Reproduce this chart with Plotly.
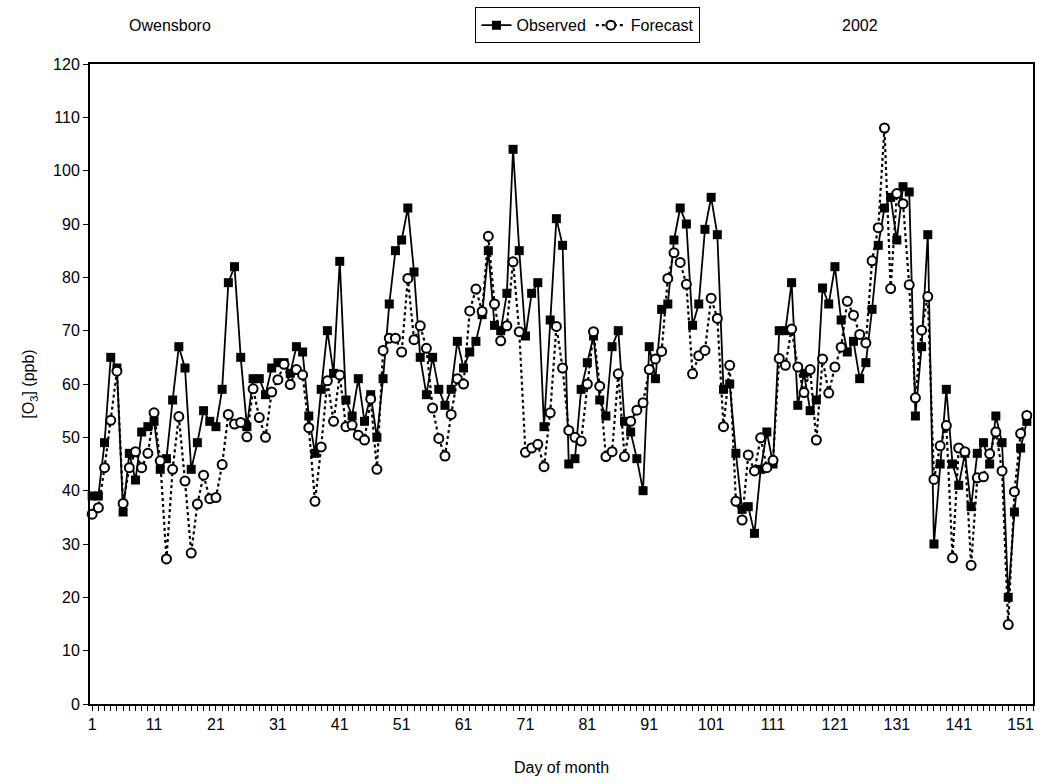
import plotly.graph_objects as go

days = list(range(1, 153))

observed = [
    39, 39, 49, 65, 63, 36, 47, 42, 51, 52,
    53, 44, 46, 57, 67, 63, 44, 49, 55, 53,
    52, 59, 79, 82, 65, 52, 61, 61, 58, 63,
    64, 64, 62, 67, 66, 54, 47, 59, 70, 62,
    83, 57, 54, 61, 53, 58, 50, 61, 75, 85,
    87, 93, 81, 65, 58, 65, 59, 56, 59, 68,
    63, 66, 68, 73, 85, 71, 70, 77, 104, 85,
    69, 77, 79, 52, 72, 91, 86, 45, 46, 59,
    64, 69, 57, 54, 67, 70, 53, 51, 46, 40,
    67, 61, 74, 75, 87, 93, 90, 71, 75, 89,
    95, 88, 59, 60, 47, 36.5, 37, 32, 44, 51,
    45, 70, 70, 79, 56, 62, 55, 57, 78, 75,
    82, 72, 66, 68, 61, 64, 74, 86, 93, 95,
    87, 97, 96, 54, 67, 88, 30, 45, 59, 45,
    41, 47, 37, 47, 49, 45, 54, 49, 20, 36,
    48, 53,
]

forecast = [
    35.6, 36.8, 44.3, 53.2, 62.4, 37.6, 44.3, 47.3, 44.3, 47.0,
    54.6, 45.6, 27.2, 44.0, 53.9, 41.8, 28.3, 37.5, 42.9, 38.5,
    38.7, 44.9, 54.3, 52.5, 52.8, 50.1, 59.1, 53.7, 50.0, 58.5,
    60.8, 63.7, 59.9, 62.7, 61.7, 51.8, 38.0, 48.2, 60.6, 53.0,
    61.7, 52.0, 52.3, 50.4, 49.5, 57.2, 44.0, 66.3, 68.6, 68.6,
    66.0, 79.8, 68.3, 70.9, 66.7, 55.5, 49.8, 46.5, 54.3, 61.0,
    60.0, 73.7, 77.8, 73.6, 87.7, 75.0, 68.1, 70.9, 82.9, 69.8,
    47.2, 48.0, 48.7, 44.5, 54.6, 70.8, 63.0, 51.3, 50.0, 49.3,
    60.0, 69.8, 59.6, 46.4, 47.3, 61.9, 46.4, 53.0, 55.1, 56.5,
    62.7, 64.7, 66.1, 79.8, 84.6, 82.8, 78.7, 61.9, 65.3, 66.3,
    76.1, 72.3, 52.0, 63.5, 38.0, 34.5, 46.7, 43.7, 49.9, 44.3,
    45.7, 64.8, 63.5, 70.3, 63.2, 58.4, 62.7, 49.5, 64.7, 58.3,
    63.2, 66.9, 75.5, 72.9, 69.3, 67.7, 83.1, 89.3, 108.0, 77.9,
    95.7, 93.8, 78.6, 57.4, 70.1, 76.4, 42.1, 48.4, 52.2, 27.4,
    48.0, 47.3, 26.0, 42.4, 42.6, 46.9, 51.0, 43.7, 14.9, 39.8,
    50.7, 54.1,
]

x_tick_vals = list(range(1, 152, 10))
x_tick_text = [str(v) for v in x_tick_vals]
y_tick_vals = list(range(0, 121, 10))

FONT = "Liberation Sans Narrow, Arial Narrow, Liberation Sans, Arial, sans-serif"
FS = 16

fig = go.Figure()
fig.add_trace(go.Scatter(
    x=days, y=observed, name="Observed", mode="lines+markers",
    line=dict(color="black", width=1.8),
    marker=dict(symbol="square", size=9, color="black", line=dict(color="black", width=0)),
    cliponaxis=False,
))
fig.add_trace(go.Scatter(
    x=days, y=forecast, name="Forecast", mode="lines+markers",
    line=dict(color="black", width=2.2, dash="dot"),
    marker=dict(symbol="circle", size=9, color="white", line=dict(color="black", width=2)),
    cliponaxis=False,
))

plot_left, plot_right, plot_top, plot_bottom = 90, 1035, 60, 704


def px_to_paper(px, py):
    return ((px - plot_left) / (plot_right - plot_left),
            (plot_bottom - py) / (plot_bottom - plot_top))


lx, ly = px_to_paper(589, 21)
ax, ay = px_to_paper(170, 21)
bx, by = px_to_paper(862, 21)

fig.update_layout(
    width=1042, height=784, autosize=False,
    margin=dict(l=plot_left, r=1042 - plot_right, t=plot_top, b=784 - plot_bottom),
    paper_bgcolor="white", plot_bgcolor="white",
    font=dict(family=FONT, size=FS, color="black"),
    showlegend=True,
    legend=dict(
        orientation="h", x=lx, y=ly, xanchor="center", yanchor="middle",
        bordercolor="black", borderwidth=1, bgcolor="white",
        font=dict(family=FONT, size=FS, color="black"),
        tracegroupgap=0,
    ),
    xaxis=dict(
        range=[0.65, 153], tickmode="array", tickvals=x_tick_vals, ticktext=x_tick_text,
        ticks="outside", ticklen=5, tickwidth=1, tickcolor="black",
        minor=dict(dtick=1, tick0=0, ticks="outside", ticklen=5, tickwidth=1, tickcolor="black"),
        showline=True, linecolor="black", linewidth=2, mirror=True,
        showgrid=False, zeroline=False,
        title=dict(text="Day of month", font=dict(family=FONT, size=FS), standoff=30),
        tickfont=dict(family=FONT, size=FS),
    ),
    yaxis=dict(
        range=[0, 120], tickmode="array", tickvals=y_tick_vals,
        ticks="outside", ticklen=5, tickwidth=1, tickcolor="black",
        showline=True, linecolor="black", linewidth=2, mirror=True,
        showgrid=False, zeroline=False,
        title=dict(text="[O<sub>3</sub>] (ppb)", font=dict(family=FONT, size=FS), standoff=14),
        tickfont=dict(family=FONT, size=FS),
    ),
)

fig.add_annotation(text="Owensboro", x=ax, y=ay, xref="paper", yref="paper",
                   xanchor="center", yanchor="middle",
                   showarrow=False, font=dict(family=FONT, size=FS, color="black"))
fig.add_annotation(text="2002", x=bx, y=by, xref="paper", yref="paper",
                   xanchor="center", yanchor="middle",
                   showarrow=False, font=dict(family=FONT, size=FS, color="black"))

fig.write_html("out.html")
